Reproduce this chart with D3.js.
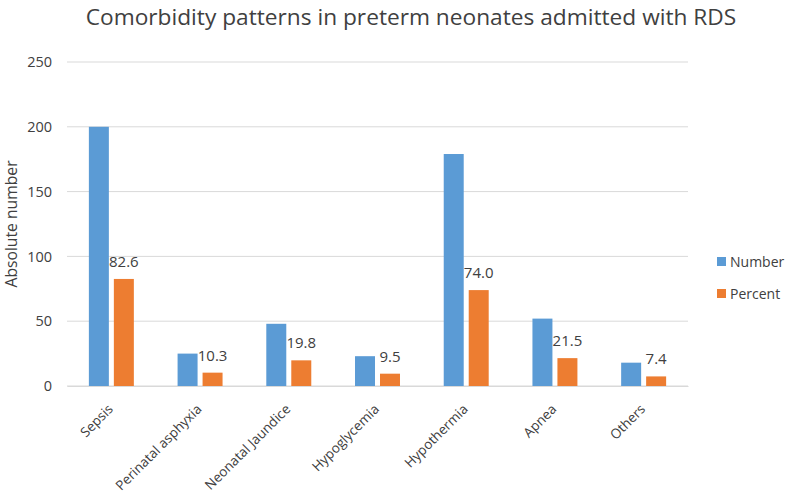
<!DOCTYPE html>
<html><head><meta charset="utf-8">
<script src="https://cdn.jsdelivr.net/npm/d3@7"></script>
<style>body{margin:0;background:#fff}svg{display:block}text{font-family:"Open Sans",sans-serif;fill:#404040}</style>
</head><body><svg id="c" width="789" height="499"></svg>
<script>
const categories = ["Sepsis","Perinatal asphyxia","Neonatal Jaundice","Hypoglycemia","Hypothermia","Apnea","Others"];
const numberValues = [200, 25, 48, 23, 179, 52, 18];
const percentValues = [82.6, 10.3, 19.8, 9.5, 74.0, 21.5, 7.4];
const seriesNames = ["Number","Percent"];
const yTicks = [0,50,100,150,200,250];
const colors = ["#5b9bd5","#ed7d31"];

const svg = d3.select("#c");
const m = {l:67, r:101, t:62, b:113};
const W = 789, H = 499;
const x0 = d3.scaleBand().domain(categories).range([m.l, W-m.r]).paddingInner(0.493).paddingOuter(0.2465);
const x1 = d3.scaleBand().domain(seriesNames).range([0, x0.bandwidth()]).paddingInner(0.2);
const y = d3.scaleLinear().domain([0,250]).range([H-m.b, m.t]);

// gridlines
svg.append("g").selectAll("line").data(yTicks).join("line")
  .attr("x1", m.l).attr("x2", W-m.r).attr("y1", d=>y(d)).attr("y2", d=>y(d))
  .attr("stroke", "#d9d9d9").attr("stroke-width", 1);

// y axis
const ya = svg.append("g").attr("transform", `translate(${m.l},0)`)
  .call(d3.axisLeft(y).tickValues(yTicks).tickSize(0).tickPadding(15));
ya.select(".domain").remove();
ya.selectAll("text").style("font-size","14.5px").style("font-family","'Open Sans',sans-serif").attr("fill","#404040");

// x axis
const xa = svg.append("g").attr("transform", `translate(0,${y(0)})`)
  .call(d3.axisBottom(x0).tickSize(0).tickPadding(0));
xa.select(".domain").attr("stroke","#d9d9d9");
xa.selectAll("text").style("font-size","13.5px").style("font-family","'Open Sans',sans-serif").attr("fill","#404040")
  .attr("text-anchor","end").attr("dy","0")
  .attr("transform","translate(2.5,24) rotate(-45)");

const data = categories.map((c,i)=>({c, vals:[numberValues[i], percentValues[i]]}));
const g = svg.append("g").selectAll("g").data(data).join("g")
  .attr("transform", d=>`translate(${x0(d.c)},0)`);
g.selectAll("rect").data(d=>d.vals.map((v,j)=>({s:seriesNames[j], v, j}))).join("rect")
  .attr("x", d=>x1(d.s)).attr("width", x1.bandwidth())
  .attr("y", d=>y(d.v)).attr("height", d=>y(0)-y(d.v))
  .attr("fill", d=>colors[d.j]);
g.append("text")
  .attr("x", x1("Percent")+x1.bandwidth()/2)
  .attr("y", d=>y(d.vals[1])-12)
  .attr("text-anchor","middle").style("font-size","15px")
  .text(d=>d.vals[1].toFixed(1));

// title
svg.append("text").attr("x", 411).attr("y", 25).attr("text-anchor","middle")
  .style("font-size","22.7px").text("Comorbidity patterns in preterm neonates admitted with RDS");

// y label
svg.append("text").attr("transform", `translate(17,${(y(0)+y(250))/2}) rotate(-90)`)
  .attr("text-anchor","middle").style("font-size","15.7px").text("Absolute number");

// legend
const lg = svg.append("g").selectAll("g").data(seriesNames).join("g")
  .attr("transform",(d,i)=>`translate(717,${257+i*32})`);
lg.append("rect").attr("width",9).attr("height",9).attr("fill",(d,i)=>colors[i]);
lg.append("text").attr("x",13).attr("y",10).style("font-size","14px").text(d=>d);
</script></body></html>
